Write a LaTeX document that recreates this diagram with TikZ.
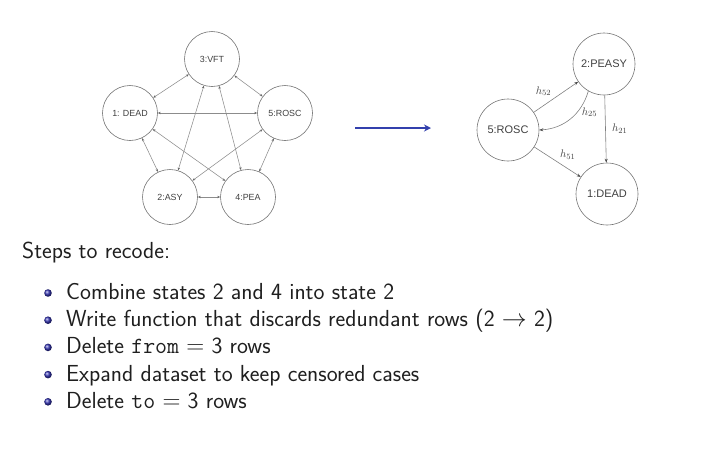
\documentclass[tikz,border=0pt]{standalone}
\usepackage{fontspec}
\newfontfamily\labfont{Liberation Sans}
\usetikzlibrary{arrows.meta}
\definecolor{ballblue}{rgb}{0.2,0.2,0.7}
\definecolor{arrowblue}{rgb}{0.2,0.25,0.68}
\definecolor{txt}{gray}{0.12}
\begin{document}
\begin{tikzpicture}[x=1pt,y=-1pt,
  lstate/.style={circle,draw=black!55,line width=0.6pt,minimum size=55pt,inner sep=0pt,font=\labfont\fontsize{8.9}{10}\selectfont,text=black!75},
  rstate/.style={circle,draw=black!55,line width=0.6pt,minimum size=62pt,inner sep=0pt,font=\labfont\fontsize{11}{12}\selectfont,text=black!75},
  ledge/.style={draw=black!45,line width=0.55pt,{Stealth[length=3pt,width=2.4pt,black!60]}-{Stealth[length=3pt,width=2.4pt,black!60]}},
  redge/.style={draw=black!50,line width=0.6pt,-{Stealth[length=4pt,width=3pt,black!70]}},
  hlab/.style={font=\fontsize{11}{12}\selectfont,text=black!75},
  body/.style={font=\sffamily\fontsize{23.2}{28}\selectfont,text=txt,anchor=base west,inner sep=0pt},
  bul/.style={ball color=ballblue,draw=none}
]
\useasboundingbox (0,0) rectangle (720,448);
% left graph
\node[lstate] (vft) at (212,59) {3:VFT};
\node[lstate] (dead) at (130,113) {1: DEAD};
\node[lstate] (rosc) at (285,113) {5:ROSC};
\node[lstate] (asy) at (170,197) {2:ASY};
\node[lstate] (pea) at (248,197) {4:PEA};
\draw[ledge] (vft) -- (dead);
\draw[ledge] (vft) -- (rosc);
\draw[ledge] (vft) -- (asy);
\draw[ledge] (vft) -- (pea);
\draw[ledge] (dead) -- (rosc);
\draw[ledge] (dead) -- (asy);
\draw[ledge] (dead) -- (pea);
\draw[ledge] (rosc) -- (asy);
\draw[ledge] (rosc) -- (pea);
\draw[ledge] (asy) -- (pea);
% big arrow
\coordinate (a1) at (355,128);
\coordinate (a2) at (431,128);
\draw[arrowblue,line width=1.6pt,-{Stealth[length=7pt,width=7pt]}] (a1) -- (a2);
% right graph
\node[rstate] (peasy) at (604,64) {2:PEASY};
\node[rstate] (rrosc) at (508,130) {5:ROSC};
\node[rstate] (rdead) at (607,194) {1:DEAD};
\draw[redge] (rrosc) -- node[hlab,above left=-1pt,pos=0.45] {$h_{52}$} (peasy);
\draw[redge] (peasy.240) to[bend left=35] node[hlab,right=1pt,pos=0.35] {$h_{25}$} (rrosc.east);
\draw[redge] (peasy) -- node[hlab,right=3pt,pos=0.5] {$h_{21}$} (rdead);
\draw[redge] (rrosc) -- node[hlab,above right=-1pt,pos=0.5] {$h_{51}$} (rdead);
% text
\node[body] (steps) at (22,258) {Steps to recode:};
\foreach \i/\t in {0/{Combine states 2 and 4 into state 2},
  1/{Write function that discards redundant rows (2 $\rightarrow$ 2)},
  2/{Delete \texttt{from} $=$ 3 rows},
  3/{Expand dataset to keep censored cases},
  4/{Delete \texttt{to} $=$ 3 rows}}{
  \node[body] (item\i) at (66,{299.5+27.2*\i}) {\t};
  \shade[bul] (48,{293+27.2*\i}) circle (3.8pt);
}
\end{tikzpicture}
\end{document}
